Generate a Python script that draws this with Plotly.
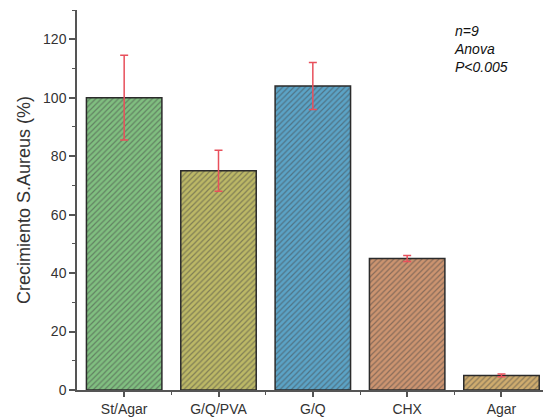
import plotly.graph_objects as go

# Growth of S. aureus per treatment group (% relative to control)
categories = ["St/Agar", "G/Q/PVA", "G/Q", "CHX", "Agar"]
growth = [100, 75, 104, 45, 5]
growth_err = [14.5, 7, 8, 1, 0.5]
bar_colors = ["#80bf80", "#bcb866", "#5ba3c6", "#cc9470", "#cfac6e"]
hatch_colors = ["#4f8f55", "#85803a", "#2f7396", "#96603f", "#97743e"]

x_pos = list(range(len(categories)))

# plot area in pixels
W, H = 543, 420
ML, MR, MT, MB = 77, 0, 10, 30

fig = go.Figure()
fig.add_trace(go.Bar(
    x=x_pos,
    y=growth,
    width=0.8,
    marker=dict(
        color=bar_colors,
        line=dict(color="#2b2b2b", width=1.5),
        pattern=dict(shape="/", fgcolor=hatch_colors, bgcolor=bar_colors,
                     size=4, solidity=0.3, fillmode="overlay"),
    ),
    error_y=dict(type="data", array=growth_err, color="#e8505c",
                 thickness=1.5, width=4),
    showlegend=False,
))

# statistics note, top right
fig.add_annotation(
    x=(452 - ML) / (W - ML - MR), y=1 + (MT - 21) / (H - MT - MB),
    xref="paper", yref="paper", showarrow=False,
    text="<i>n=9</i><br><i>Anova</i><br><i>P<0.005</i>",
    align="left", xanchor="left", yanchor="top",
    font=dict(family="Liberation Sans, Arial", size=14, color="#111"),
)

fig.update_layout(
    width=W, height=H,
    margin=dict(l=ML, r=MR, t=MT, b=MB),
    paper_bgcolor="white", plot_bgcolor="white",
    font=dict(family="Liberation Sans, Arial", size=14, color="#333"),
)
fig.update_xaxes(
    range=[-0.5, 4.44],
    tickvals=x_pos, ticktext=categories,
    showline=True, linecolor="#555", linewidth=1.5,
    ticks="outside", ticklen=5, tickcolor="#555", tickwidth=1.5,
    minor=dict(tickvals=[0.5, 1.5, 2.5, 3.5], ticks="outside",
               ticklen=3, tickcolor="#555", tickwidth=1),
    showgrid=False, zeroline=False,
    tickfont=dict(size=14, color="#333"),
)
fig.update_yaxes(
    range=[0, 130],
    tickvals=[0, 20, 40, 60, 80, 100, 120],
    showline=True, linecolor="#555", linewidth=1.5,
    ticks="outside", ticklen=6, tickcolor="#555", tickwidth=1.5,
    minor=dict(tickvals=[10, 30, 50, 70, 90, 110, 130], ticks="outside",
               ticklen=3, tickcolor="#555", tickwidth=1),
    showgrid=False, zeroline=False,
    tickfont=dict(size=14, color="#333"),
    title=dict(text="Crecimiento S.Aureus (%)", font=dict(size=18, color="#333"),
               standoff=8),
)

fig.write_html("out.html")
